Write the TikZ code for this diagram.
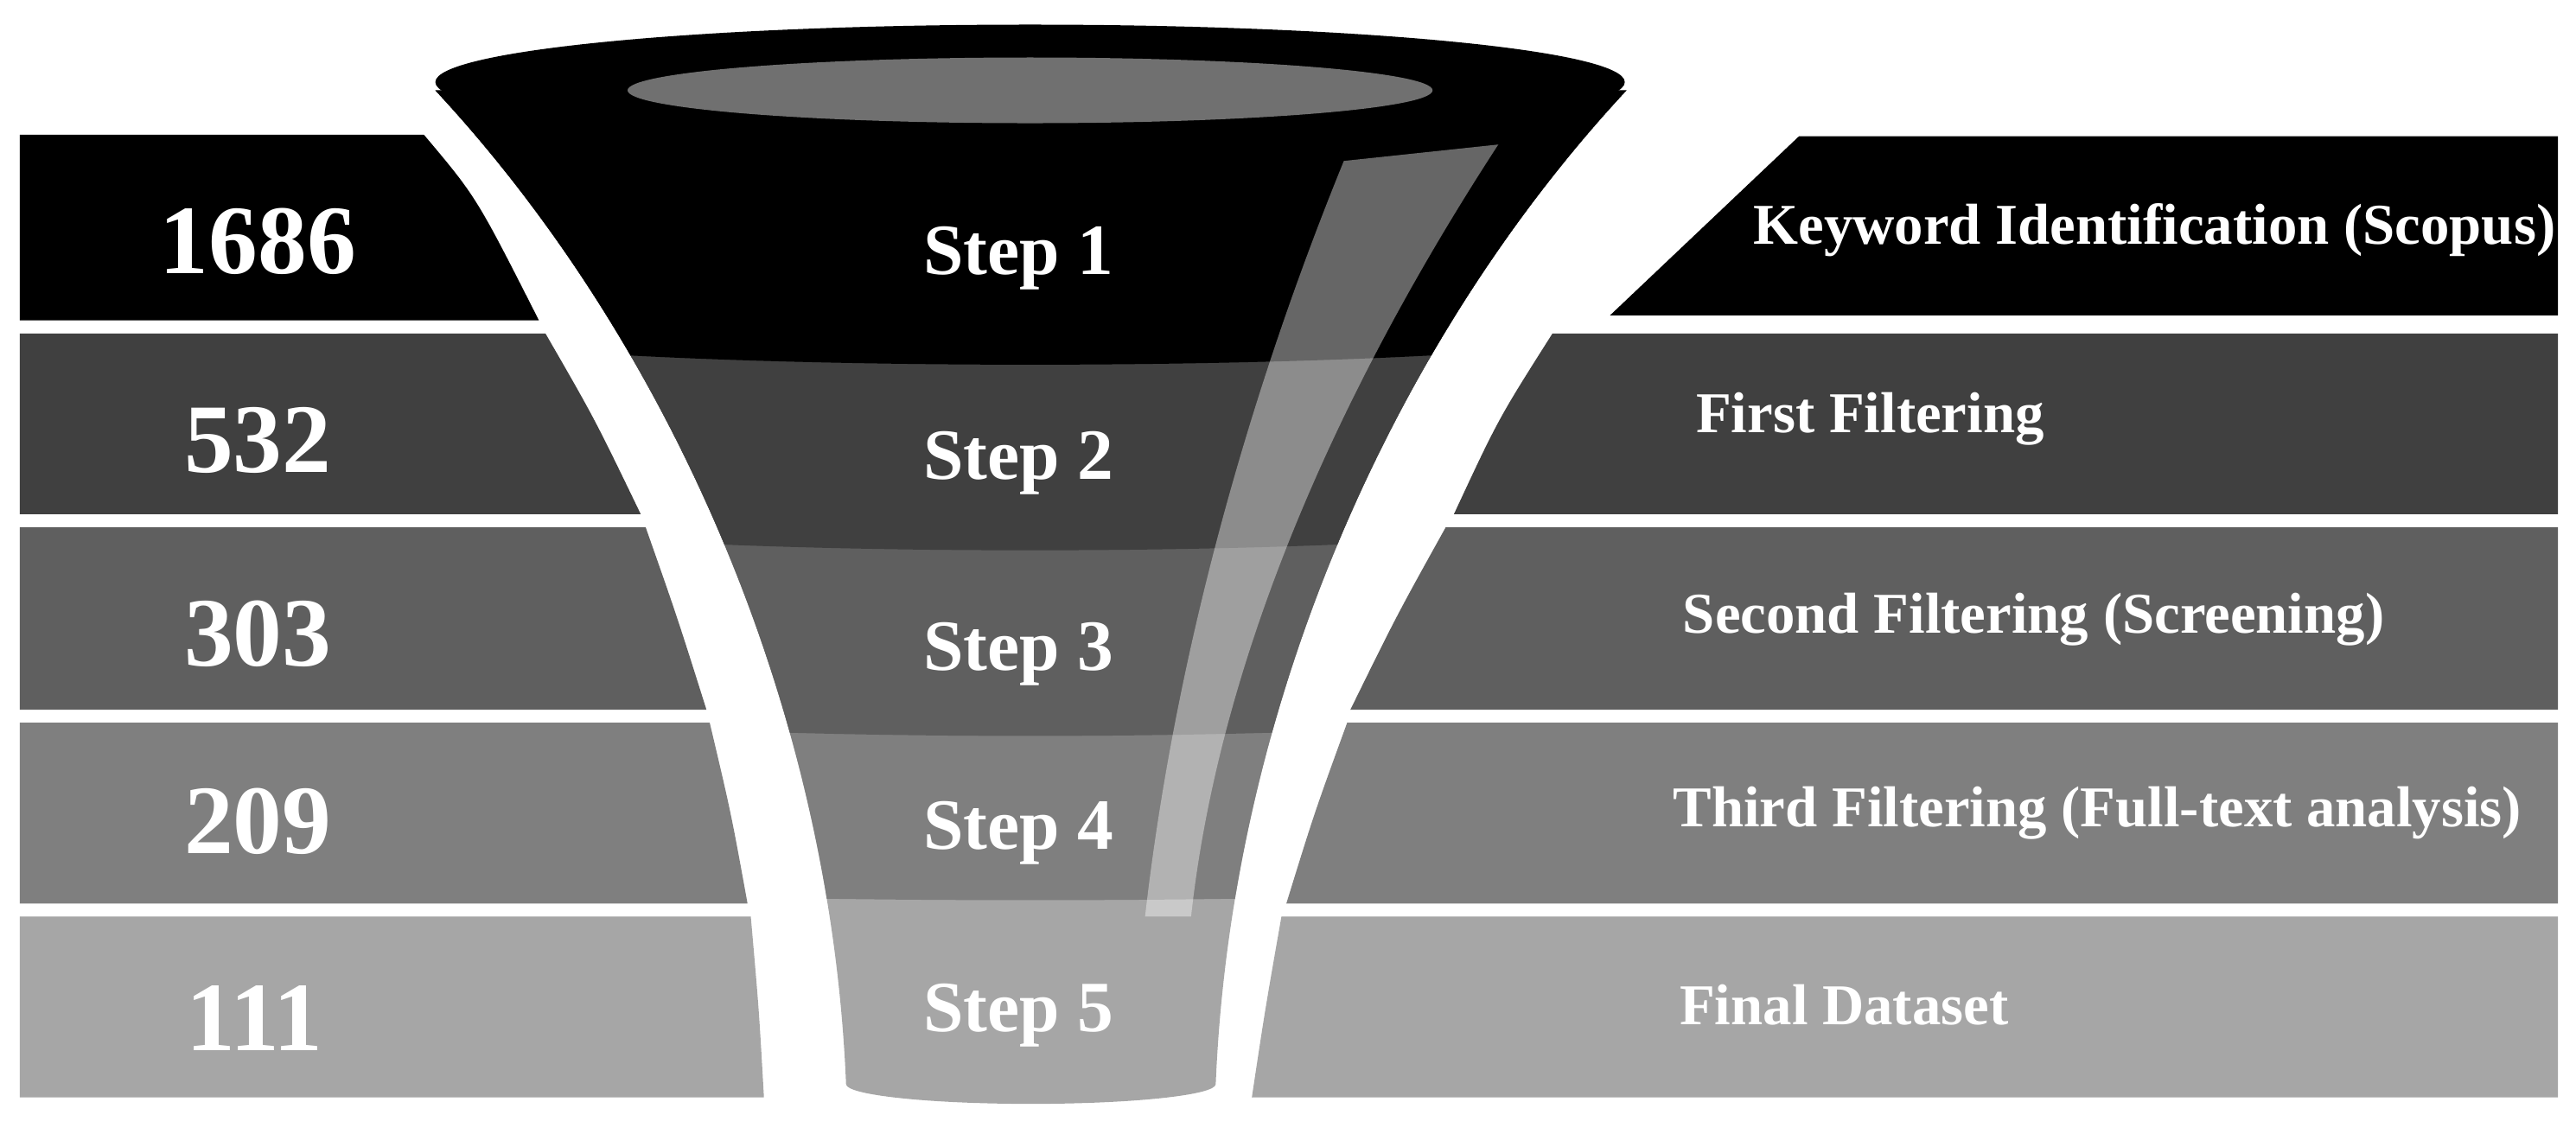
\documentclass[tikz,border=0pt]{standalone}
\usepackage{fontspec}
\setmainfont{Liberation Serif}
\begin{document}
\begin{tikzpicture}[x=0.1mm,y=-0.1mm,
  num/.style={text=white,font=\bfseries\fontsize{17}{17}\selectfont},
  stp/.style={text=white,font=\bfseries\fontsize{12.5}{12.5}\selectfont},
  lab/.style={text=white,font=\bfseries\fontsize{10}{10}\selectfont}]
\definecolor{cA}{HTML}{000000}
\definecolor{cB}{HTML}{404040}
\definecolor{cC}{HTML}{5F5F5F}
\definecolor{cD}{HTML}{7F7F7F}
\definecolor{cE}{HTML}{A6A6A6}
\useasboundingbox (0,0) rectangle (1568,690);

% Left bars
\fill[cA] (12,82) -- (258,82) .. controls (290,120) .. (328,195) -- (12,195) -- cycle;
\fill[cB] (12,203) -- (332,203) .. controls (362,255) .. (390,313) -- (12,313) -- cycle;
\fill[cC] (12,321) -- (393,321) .. controls (412,375) .. (430,432) -- (12,432) -- cycle;
\fill[cD] (12,440) -- (432,440) .. controls (445,495) .. (455,550) -- (12,550) -- cycle;
\fill[cE] (12,558) -- (457,558) .. controls (462,615) .. (465,668) -- (12,668) -- cycle;

% Right bars
\fill[cA] (1557,83) -- (1095,83) -- (980,192) -- (1557,192) -- cycle;
\fill[cB] (1557,203) -- (945,203) .. controls (912,255) .. (885,313) -- (1557,313) -- cycle;
\fill[cC] (1557,321) -- (880,321) .. controls (850,375) .. (822,432) -- (1557,432) -- cycle;
\fill[cD] (1557,440) -- (820,440) .. controls (800,495) .. (783,550) -- (1557,550) -- cycle;
\fill[cE] (1557,558) -- (780,558) .. controls (770,615) .. (762,668) -- (1557,668) -- cycle;

% Funnel body in bands
\begin{scope}
  \clip (265,55) .. controls (400,200) and (505,420) .. (515,660)
    arc[start angle=180,end angle=360,x radius=11.25mm,y radius=1.2mm]
    .. controls (750,420) and (855,200) .. (990,55) -- cycle;
  \fill[cE] (200,0) rectangle (1100,700);
  \fill[cD] (200,0) rectangle (1100,530)
    (627,530) ellipse[x radius=40mm,y radius=1.8mm];
  \fill[cC] (200,0) rectangle (1100,420)
    (627,420) ellipse[x radius=40mm,y radius=2.8mm];
  \fill[cB] (200,0) rectangle (1100,305)
    (627,305) ellipse[x radius=40mm,y radius=3mm];
  \fill[cA] (200,0) rectangle (1100,195)
    (627,195) ellipse[x radius=40mm,y radius=2.7mm];
  % highlight
  \fill[white,opacity=0.4] (818,98) -- (912,88)
    .. controls (800,260) and (740,420) .. (725,558)
    -- (697,558) .. controls (715,400) and (760,240) .. (818,98) -- cycle;
\end{scope}

% Funnel rim
\fill[cA] (627,50) ellipse[x radius=36.2mm,y radius=3.5mm];
\fill[black!56] (627,55) ellipse[x radius=24.5mm,y radius=2mm];

% Texts
\node[num] (n1) at (157,147) {1686};
\node[num] (n2) at (157,268) {532};
\node[num] (n3) at (157,386) {303};
\node[num] (n4) at (157,500) {209};
\node[num] (n5) at (155,620) {111};
\node[stp] (s1) at (620,157) {Step 1};
\node[stp] (s2) at (620,282) {Step 2};
\node[stp] (s3) at (620,398) {Step 3};
\node[stp] (s4) at (620,507) {Step 4};
\node[stp] (s5) at (620,618) {Step 5};
\node[lab,anchor=west] (l1) at (1055,140) {Keyword Identification (Scopus)};
\node[lab,anchor=west] (l2) at (1020,255) {First Filtering};
\node[lab,anchor=west] (l3) at (1012,377) {Second Filtering (Screening)};
\node[lab,anchor=west] (l4) at (1006,495) {Third Filtering (Full-text analysis)};
\node[lab,anchor=west] (l5) at (1010,612) {Final Dataset};
\end{tikzpicture}
\end{document}
